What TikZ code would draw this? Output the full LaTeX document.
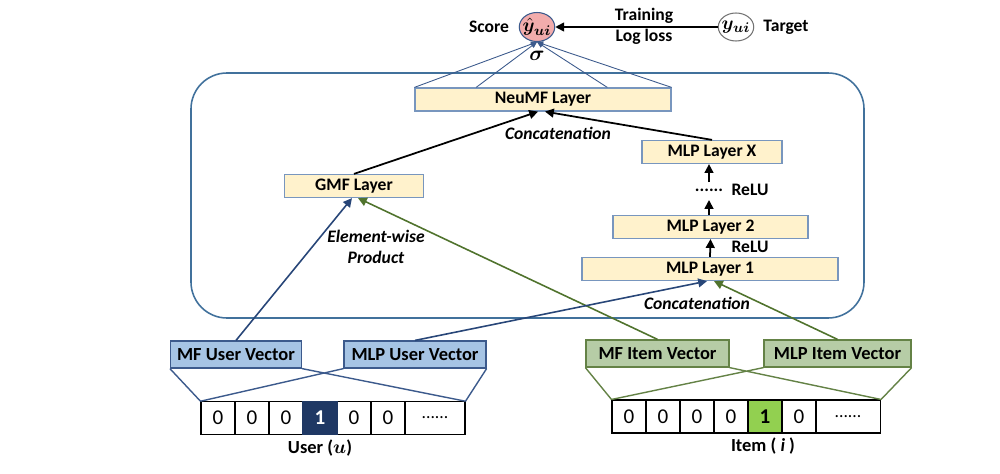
\documentclass[tikz,border=0pt]{standalone}
\usepackage{bm}
\usepackage{fontspec}
\setmainfont{Carlito}
\usetikzlibrary{arrows.meta, calc, shapes.geometric}
\definecolor{framecol}{RGB}{65,113,156}
\definecolor{layerfill}{RGB}{255,242,204}
\definecolor{layerline}{RGB}{120,150,190}
\definecolor{userfill}{RGB}{166,196,228}
\definecolor{userline}{RGB}{60,90,140}
\definecolor{itemfill}{RGB}{182,204,166}
\definecolor{itemline}{RGB}{100,130,70}
\definecolor{navycell}{RGB}{31,56,100}
\definecolor{greencell}{RGB}{146,208,80}
\definecolor{bluearrow}{RGB}{40,70,120}
\definecolor{greenarrow}{RGB}{80,115,45}
\definecolor{scorefill}{RGB}{242,172,172}
\tikzset{
  >={Triangle[length=5pt,width=5pt]},
  lbl/.style={inner sep=0pt, font=\fontsize{10}{12}\selectfont\bfseries},
  itlbl/.style={lbl, font=\fontsize{10}{12}\selectfont\bfseries\itshape},
  outnode/.style={ellipse, line width=0.6pt, inner sep=-1pt, font=\fontsize{11}{12}\selectfont},
  layer/.style={draw=layerline, fill=layerfill, line width=0.7pt, inner sep=0pt,
    minimum height=0.46cm, font=\fontsize{10}{12}\selectfont\bfseries},
  uvec/.style={draw=userline, fill=userfill, line width=0.7pt, inner sep=0pt,
    minimum height=0.54cm, font=\fontsize{10.5}{12}\selectfont\bfseries},
  ivec/.style={uvec, draw=itemline, fill=itemfill},
  cell/.style={draw, line width=0.6pt, inner sep=0pt, minimum width=0.68cm,
    minimum height=0.65cm, font=\fontsize{12}{14}\selectfont},
  hotcell/.style={cell, font=\fontsize{12}{14}\selectfont\bfseries},
  blackarrow/.style={->, line width=1pt},
  bluearr/.style={->, draw=bluearrow, line width=0.9pt},
  greenarr/.style={->, draw=greenarrow, line width=0.9pt},
  thinarrow/.style={-{Triangle[length=3.5pt,width=3pt]}, draw=userline, line width=0.5pt},
}
\begin{document}
\begin{tikzpicture}[x=0.02cm, y=-0.02cm]
  \useasboundingbox (0,0) rectangle (1000,473);

  % output and target
  \node[outnode, draw=userline, fill=scorefill, minimum width=0.68cm,
        minimum height=0.58cm] (yhat) at (537,27) {$\bm{\hat{y}_{ui}}$};
  \node[outnode, draw=black!55, fill=white, minimum width=0.68cm,
        minimum height=0.56cm] (ytrue) at (736,27) {$\bm{y_{ui}}$};
  \node[lbl] (scorelbl)  at (489,27) {Score};
  \node[lbl] (targetlbl) at (786,27) {Target};
  \node[lbl] (train)     at (644,16) {Training};
  \node[lbl] (logloss)   at (644,37) {Log loss};
  \node[lbl, font=\fontsize{12}{14}\selectfont] (sigma) at (537,56) {$\bm{\sigma}$};
  \draw[blackarrow] (ytrue) -- (yhat);

  % NeuMF frame
  \draw[framecol, line width=0.9pt, rounded corners=0.72cm] (191,73) rectangle (864,318);

  \node[layer, minimum width=5.12cm] (neumf) at (543,99.5)  {NeuMF Layer};
  \node[layer, minimum width=2.78cm] (gmf)   at (354,186)   {GMF Layer};
  \node[layer, minimum width=2.80cm] (mlpx)  at (712,152)   {MLP Layer X};
  \node[layer, minimum width=3.90cm] (mlp2)  at (710.5,227) {MLP Layer 2};
  \node[layer, minimum width=5.12cm] (mlp1)  at (710,269)   {MLP Layer 1};

  \foreach \p in {0, 0.24, 0.75, 1}
    \draw[thinarrow] ($(neumf.north west)!\p!(neumf.north east)$) -- (yhat.south);

  \node[itlbl] (concattop) at (558,133) {Concatenation};
  \draw[blackarrow] (gmf.north)  -- ($(neumf.south)+(-5,0)$);
  \draw[blackarrow] (mlpx.north) -- ($(neumf.south)+(2,0)$);

  \node[lbl] (dots)  at (709,190) {......};
  \node[lbl] (relux) at (750,190) {ReLU};
  \node[lbl] (relu2) at (750,247) {ReLU};
  \coordinate (dotsbot) at (709,200);
  \coordinate (dotstop) at (709,182);
  \draw[blackarrow] (mlp1.north) -- (mlp2.south);
  \draw[blackarrow] ($(mlp2.north)+(-1.5,0)$) -- (dotsbot);
  \draw[blackarrow] (dotstop) -- ($(mlpx.south)+(-3,0)$);

  \node[itlbl, align=center] (elemwise) at (376,247) {Element-wise\\Product};
  \node[itlbl] (concatbot) at (697,303) {Concatenation};

  % embedding vectors
  \node[uvec, minimum width=2.62cm] (mfu)  at (236,354.5)   {MF User Vector};
  \node[uvec, minimum width=2.84cm] (mlpu) at (415,354.5)   {MLP User Vector};
  \node[ivec, minimum width=2.86cm] (mfi)  at (657.5,353.5) {MF Item Vector};
  \node[ivec, minimum width=2.94cm] (mlpi) at (837.5,353.5) {MLP Item Vector};

  \draw[bluearr]  (mfu.north)  -- ($(gmf.south)+(-2,0)$);
  \draw[greenarr] (mfi.north)  -- ($(gmf.south)+(4,0)$);
  \draw[bluearr]  (mlpu.north) -- ($(mlp1.south)+(-3,0)$);
  \draw[greenarr] (mlpi.north) -- ($(mlp1.south)+(4,0)$);

  % one-hot inputs
  \foreach \k/\v in {1/0, 2/0, 3/0, 5/0, 6/0}
    \node[cell] (u\k) at ({184+34*\k},418) {\v};
  \node[hotcell, fill=navycell, draw=navycell, text=white] (u4) at (320,418) {1};
  \node[cell, minimum width=1.2cm, font=\fontsize{10}{12}\selectfont] (u7) at (435,418) {......};
  \node[lbl, font=\fontsize{10.5}{12}\selectfont\bfseries] (userlbl) at (320,448) {User ($\bm{u}$)};

  \foreach \k/\v in {1/0, 2/0, 3/0, 4/0, 6/0}
    \node[cell, minimum height=0.66cm] (i\k) at ({595+34*\k},416.5) {\v};
  \node[hotcell, minimum height=0.66cm, fill=greencell] (i5) at (765,416.5) {1};
  \node[cell, minimum width=1.3cm, minimum height=0.66cm, font=\fontsize{10}{12}\selectfont] (i7) at (848,416.5) {......};
  \node[lbl, font=\fontsize{10.5}{12}\selectfont\bfseries] (itemlbl) at (763,446) {Item ( \textit{i} )};

  \draw[userline, line width=0.8pt] (mfu.south west)  -- (u1.north west)
                                    (mfu.south east)  -- (u7.north east)
                                    (mlpu.south west) -- (u1.north west)
                                    (mlpu.south east) -- (u7.north east);
  \draw[itemline, line width=0.8pt] (mfi.south west)  -- (i1.north west)
                                    (mfi.south east)  -- (i7.north east)
                                    (mlpi.south west) -- (i1.north west)
                                    (mlpi.south east) -- (i7.north east);
\end{tikzpicture}
\end{document}
